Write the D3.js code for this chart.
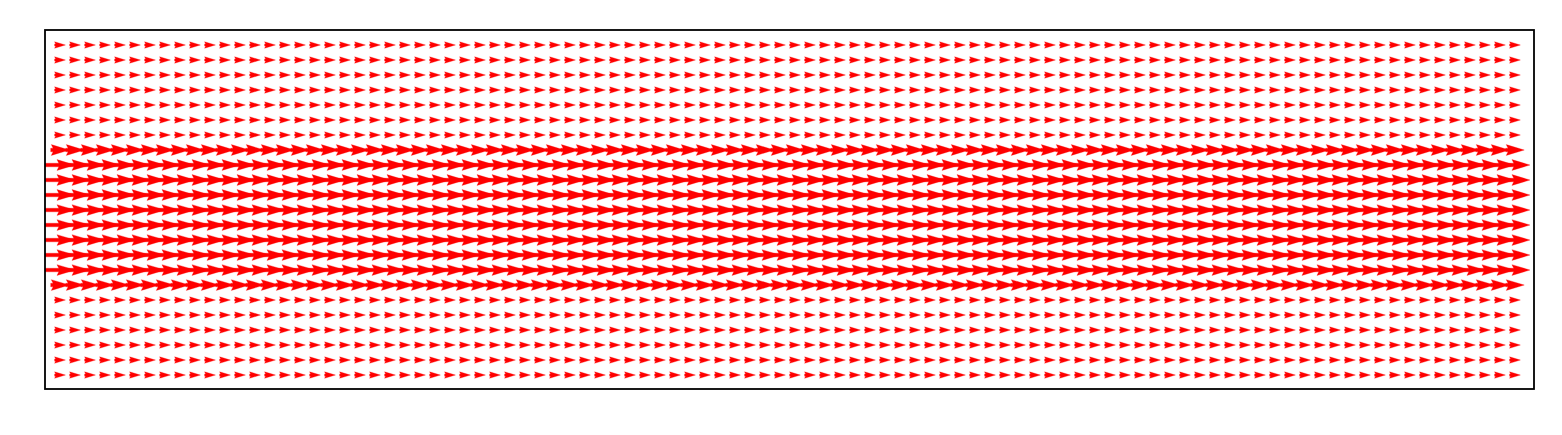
<!DOCTYPE html>
<html>
<head>
<meta charset="utf-8">
<script src="https://cdn.jsdelivr.net/npm/d3@7"></script>
<style>
  html, body { margin: 0; padding: 0; background: #ffffff; }
  svg { display: block; }
</style>
</head>
<body>
<div id="chart"></div>
<script>
// ---- data ----
// grid column positions (x, data units)
const xCols = [0,1,2,3,4,5,6,7,8,9,10,11,12,13,14,15,16,17,18,19,20,21,22,23,24,25,26,27,28,29,30,31,32,33,34,35,36,37,38,39,40,41,42,43,44,45,46,47,48,49,50,51,52,53,54,55,56,57,58,59,60,61,62,63,64,65,66,67,68,69,70,71,72,73,74,75,76,77,78,79,80,81,82,83,84,85,86,87,88,89,90,91,92,93,94,95,96,97];
// grid row positions (y, data units, bottom to top)
const yRows = [0,1,2,3,4,5,6,7,8,9,10,11,12,13,14,15,16,17,18,19,20,21,22];
// horizontal velocity u for each row (bottom to top)
const uRow = [0.36,0.36,0.36,0.36,0.36,0.36,0.62,1.0,1.0,1.0,1.0,1.0,1.0,1.0,1.0,0.62,0.36,0.36,0.36,0.36,0.36,0.36,0.36];
// vertical velocity v for each row
const vRow = [0,0,0,0,0,0,0,0,0,0,0,0,0,0,0,0,0,0,0,0,0,0,0];

// ---- layout ----
const W = 1562, H = 435;
const ax = {x0: 45, x1: 1534, y0: 30, y1: 389};

const svg = d3.select("#chart").append("svg")
  .attr("width", W).attr("height", H);

const x = d3.scaleLinear().domain([-1, 98.27]).range([ax.x0, ax.x1]);
const y = d3.scaleLinear().domain([-0.93, 23]).range([ax.y1, ax.y0]);
const lenScale = d3.scaleLinear().domain([0, 1]).range([0, 30]);

svg.append("defs").append("clipPath").attr("id", "clip")
  .append("rect").attr("x", ax.x0).attr("y", ax.y0)
  .attr("width", ax.x1 - ax.x0).attr("height", ax.y1 - ax.y0);

// matplotlib-like quiver arrow polygon, pivot = middle
const w = 3.6;
const hl = 5 * w, hal = 4.5 * w, hw = 3 * w;
function arrowPath(L) {
  let pts;
  if (L >= hl) {
    pts = [[0, 0.5*w],[L-hal, 0.5*w],[L-hl, hw/2],[L, 0],[L-hl, -hw/2],[L-hal, -0.5*w],[0, -0.5*w]];
  } else {
    const s = L / hl;
    pts = [[0, 0.5*w],[hl-hal, 0.5*w],[0, hw/2],[hl, 0],[0, -hw/2],[hl-hal, -0.5*w],[0, -0.5*w]]
      .map(p => [p[0]*s, p[1]*s]);
  }
  const tip = pts[3][0];
  return "M" + pts.map(p => (p[0] - tip/2).toFixed(2) + "," + p[1].toFixed(2)).join("L") + "Z";
}

const cells = [];
yRows.forEach((yy, j) => {
  xCols.forEach(xx => {
    cells.push({x: xx, y: yy, u: uRow[j], v: vRow[j]});
  });
});

const g = svg.append("g").attr("clip-path", "url(#clip)");
g.selectAll("path.arrow").data(cells).join("path")
  .attr("class", "arrow")
  .attr("d", d => arrowPath(lenScale(Math.hypot(d.u, d.v))))
  .attr("transform", d => {
    const ang = -Math.atan2(d.v, d.u) * 180 / Math.PI;
    return `translate(${x(d.x)},${y(d.y)}) rotate(${ang})`;
  })
  .attr("fill", "#ff0000")
  .attr("stroke", "#ff0000")
  .attr("stroke-width", 0.3)
  .attr("stroke-linejoin", "miter");

// axes frame
svg.append("rect")
  .attr("x", ax.x0).attr("y", ax.y0)
  .attr("width", ax.x1 - ax.x0).attr("height", ax.y1 - ax.y0)
  .attr("fill", "none").attr("stroke", "#000").attr("stroke-width", 1.8);
</script>
</body>
</html>
